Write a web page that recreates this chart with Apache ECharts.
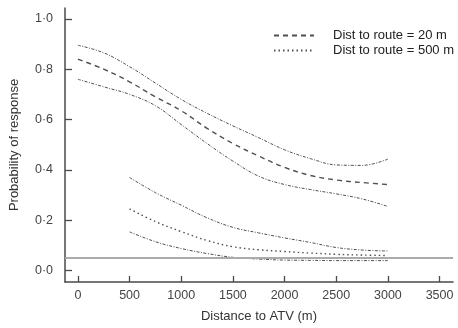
<!DOCTYPE html>
<html>
<head>
<meta charset="utf-8">
<script src="https://cdn.jsdelivr.net/npm/echarts@6/dist/echarts.min.js"></script>
<style>
  html, body { margin: 0; padding: 0; background: #fff; }
  #chart { width: 458px; height: 328px; }
</style>
</head>
<body>
<div id="chart"></div>
<script>
// Distance to ATV (m) at which the fitted curves are evaluated
const distNear = [0, 250, 500, 750, 1000, 1250, 1500, 1750, 2000, 2250, 2500, 2750, 3000];
const distFar = [500, 750, 1000, 1250, 1500, 1750, 2000, 2250, 2500, 2750, 3000];

// Dist to route = 20 m: fitted probability and confidence limits
const meanNear = [0.84, 0.80, 0.75, 0.69, 0.635, 0.565, 0.505, 0.455, 0.41, 0.378, 0.36, 0.35, 0.342];
const upperNear = [0.895, 0.865, 0.81, 0.745, 0.68, 0.625, 0.575, 0.528, 0.48, 0.445, 0.42, 0.418, 0.443];
const lowerNear = [0.76, 0.73, 0.70, 0.655, 0.58, 0.505, 0.435, 0.375, 0.342, 0.322, 0.305, 0.285, 0.255];

// Dist to route = 500 m: fitted probability and confidence limits
const meanFar = [0.245, 0.195, 0.155, 0.12, 0.095, 0.083, 0.076, 0.07, 0.065, 0.062, 0.06];
const upperFar = [0.37, 0.31, 0.26, 0.21, 0.172, 0.15, 0.13, 0.112, 0.092, 0.082, 0.078];
const lowerFar = [0.154, 0.115, 0.088, 0.068, 0.053, 0.046, 0.042, 0.041, 0.04, 0.04, 0.04];

// Reference level drawn across the plot
const baseline = 0.05;

// Tick positions
const xTicks = [0, 500, 1000, 1500, 2000, 2500, 3000, 3500];
const yTicks = [0, 0.2, 0.4, 0.6, 0.8, 1.0];

const nameNear = 'Dist to route = 20 m';
const nameFar = 'Dist to route = 500 m';

const ink = '#4a4a4a';
const font = 'Liberation Sans, Arial, Helvetica, sans-serif';

function pairs(xs, ys) {
  return xs.map((x, i) => [x, ys[i]]);
}

function curve(name, xs, ys, type, width) {
  return {
    name: name,
    type: 'line',
    data: pairs(xs, ys),
    smooth: 0.4,
    symbol: 'none',
    silent: true,
    color: '#505050',
    lineStyle: { color: '#505050', width: width, type: type }
  };
}

const dashDot = [3, 1.5, 1, 1.5];

const chart = echarts.init(document.getElementById('chart'), null, { renderer: 'canvas' });

chart.setOption({
  animation: false,
  backgroundColor: '#fff',
  textStyle: { fontFamily: font },
  grid: { left: 65, right: 5, top: 8, bottom: 45, containLabel: false },
  legend: {
    data: [nameNear, nameFar],
    orient: 'vertical',
    left: 268,
    top: 24,
    itemWidth: 40,
    itemHeight: 12,
    itemGap: 2,
    selectedMode: false,
    itemStyle: { opacity: 0 },
    textStyle: { color: '#222', fontSize: 13, fontFamily: font, padding: [0, 0, 0, 14] }
  },
  xAxis: {
    type: 'value',
    min: -125,
    max: 3630,
    name: 'Distance to ATV (m)',
    nameLocation: 'middle',
    nameGap: 28,
    nameTextStyle: { color: '#333', fontSize: 13, fontFamily: font },
    splitLine: { show: false },
    axisLine: { show: true, onZero: false, lineStyle: { color: ink, width: 1.5 } },
    axisTick: { show: true, inside: true, length: 6, customValues: xTicks, lineStyle: { color: ink, width: 1.3 } },
    axisLabel: {
      color: '#444', fontSize: 12.5, margin: 7, customValues: xTicks, fontFamily: font,
      formatter: v => String(v)
    }
  },
  yAxis: {
    type: 'value',
    min: -0.045,
    max: 1.043,
    name: 'Probability of response',
    nameLocation: 'middle',
    nameGap: 44,
    nameTextStyle: { color: '#333', fontSize: 13, fontFamily: font },
    splitLine: { show: false },
    axisLine: { show: true, onZero: false, lineStyle: { color: ink, width: 1.5 } },
    axisTick: { show: true, inside: true, length: 7, customValues: yTicks, lineStyle: { color: ink, width: 1.3 } },
    axisLabel: {
      color: '#444', fontSize: 12.5, margin: 12, customValues: yTicks, fontFamily: font,
      formatter: v => v.toFixed(1).replace('.', '\u00b7')
    }
  },
  series: [
    Object.assign(curve(nameNear, distNear, meanNear, [5, 4], 1.4), {
      markLine: {
        silent: true,
        symbol: 'none',
        label: { show: false },
        lineStyle: { color: '#ababab', width: 2, type: 'solid' },
        data: [{ yAxis: baseline }]
      }
    }),
    curve('20 m upper', distNear, upperNear, dashDot, 1),
    curve('20 m lower', distNear, lowerNear, dashDot, 1),
    curve(nameFar, distFar, meanFar, [1.5, 3], 1.4),
    curve('500 m upper', distFar, upperFar, dashDot, 1),
    curve('500 m lower', distFar, lowerFar, dashDot, 1)
  ]
});
</script>
</body>
</html>
